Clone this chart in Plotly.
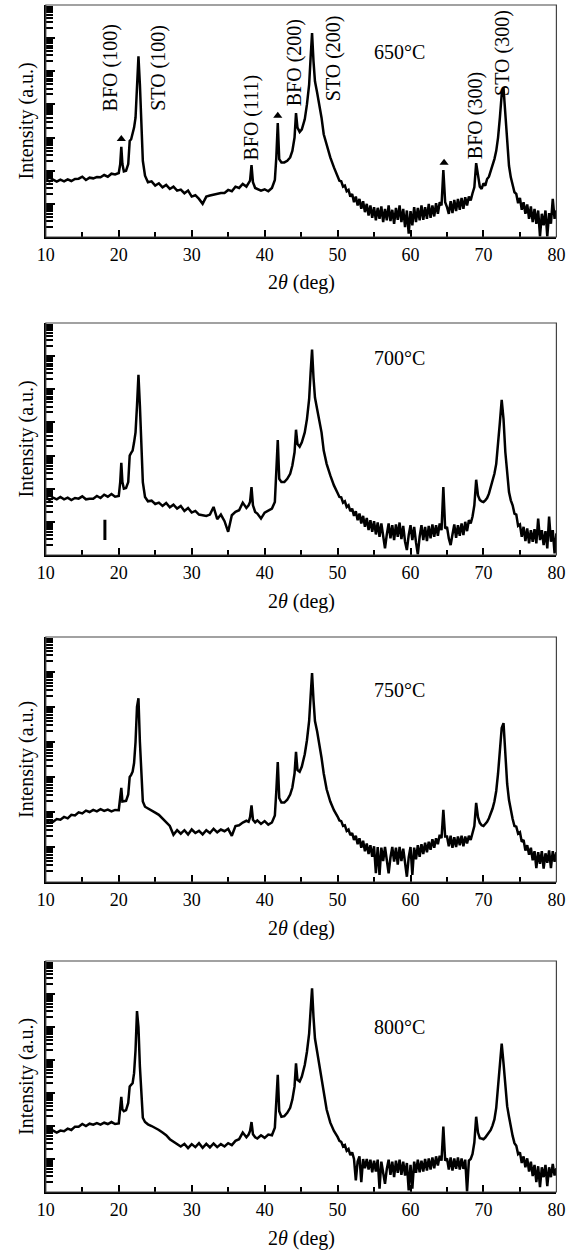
import plotly.graph_objects as go

# ---- 2-theta sample positions (deg), by scan segment ----
THETA_A = [10.0, 10.5, 11.0, 11.5, 12.0, 12.5, 13.0, 13.5, 14.0, 14.5,
           15.0, 15.5, 16.0, 16.5, 17.0, 17.5, 18.0, 18.5, 19.0, 19.5]
THETA_B = [20.0, 20.2, 20.35, 20.5, 20.7, 21.0, 21.3, 21.5, 21.7, 21.9,
           22.1, 22.3, 22.5, 22.7, 22.9, 23.1, 23.3, 23.6, 24.0]
THETA_C = [24.5, 25.0, 25.5, 26.0, 26.5, 27.0, 27.5, 28.0, 28.5, 29.0,
           29.5, 30.0, 30.5, 31.0, 31.5, 32.0, 32.5, 33.0, 33.5, 34.0,
           34.5, 35.0, 35.5, 36.0, 36.5, 37.0, 37.5,
           37.8, 38.0, 38.2, 38.4, 38.7,
           39.0, 39.5, 40.0, 40.5, 41.0]
THETA_D = [41.4, 41.6, 41.8, 42.0, 42.3, 42.7, 43.1, 43.5, 43.8, 44.1,
           44.3, 44.5, 44.8, 45.1, 45.5, 45.8, 46.1, 46.3, 46.5, 46.7,
           46.9, 47.2, 47.5, 47.8, 48.1, 48.5, 49.0, 49.5]
THETA_E = [50.0, 50.25, 50.5, 50.75, 51.0, 51.25, 51.5, 51.75,
           52.0, 52.25, 52.5, 52.75, 53.0, 53.25, 53.5, 53.75,
           54.0, 54.25, 54.5, 54.75, 55.0, 55.25, 55.5, 55.75,
           56.0, 56.25, 56.5, 56.75, 57.0, 57.25, 57.5, 57.75,
           58.0, 58.25, 58.5, 58.75, 59.0, 59.25, 59.5, 59.75,
           60.0, 60.25, 60.5, 60.75, 61.0, 61.25, 61.5, 61.75,
           62.0, 62.25, 62.5, 62.75, 63.0, 63.25, 63.5, 63.75,
           64.0, 64.25, 64.5, 64.75, 65.0, 65.25, 65.5, 65.75,
           66.0, 66.25, 66.5, 66.75, 67.0, 67.25, 67.5, 67.75,
           68.0, 68.25, 68.5, 68.75, 69.0, 69.25, 69.5, 69.75,
           70.0, 70.25, 70.5, 70.75, 71.0, 71.25, 71.5, 71.75,
           72.0, 72.25, 72.5, 72.75, 73.0, 73.25, 73.5, 73.75,
           74.0, 74.25, 74.5, 74.75, 75.0, 75.25, 75.5, 75.75,
           76.0, 76.25, 76.5, 76.75, 77.0, 77.25, 77.5, 77.75,
           78.0, 78.25, 78.5, 78.75, 79.0, 79.25, 79.5, 79.75,
           80.0]
THETA = THETA_A + THETA_B + THETA_C + THETA_D + THETA_E

# ---- log10 intensity (a.u., decades above axis bottom) ----
LOG_I_650 = [
    # A
    1.74, 1.68, 1.73, 1.67, 1.73, 1.68, 1.74, 1.69, 1.75, 1.76,
    1.82, 1.72, 1.79, 1.77, 1.81, 1.80, 1.87, 1.82, 1.91, 1.89,
    # B
    1.93, 2.20, 2.72, 2.20, 1.98, 2.00, 2.20, 2.90, 2.95, 3.10,
    3.30, 3.60, 4.50, 5.45, 4.60, 3.20, 2.30, 1.85, 1.65,
    # C
    1.68, 1.55, 1.62, 1.50, 1.57, 1.45, 1.52, 1.40, 1.43, 1.32,
    1.40, 1.22, 1.26, 1.15, 1.00, 1.22, 1.25, 1.28, 1.30, 1.33,
    1.33, 1.42, 1.38, 1.52, 1.48, 1.60, 1.52,
    1.62, 1.70, 2.17, 1.65, 1.48,
    1.45, 1.40, 1.44, 1.38, 1.48,
    # D
    1.72, 2.40, 3.44, 2.35, 2.25, 2.25, 2.30, 2.40, 2.60, 3.00,
    3.74, 3.30, 3.17, 3.25, 3.55, 4.00, 4.60, 5.40, 6.15, 5.30,
    4.70, 4.35, 4.00, 3.60, 3.10, 2.75, 2.40, 2.10,
    # E
    1.82, 1.70, 1.68, 1.52, 1.55, 1.38, 1.42, 1.22,
    1.30, 1.05, 1.22, 0.95, 1.15, 0.85, 1.08, 0.75,
    1.00, 0.65, 0.95, 0.58, 0.90, 0.50, 0.88, 0.55,
    0.92, 0.45, 0.85, 0.50, 0.95, 0.48, 0.82, 0.40,
    0.88, 0.52, 0.95, 0.45, 0.85, 0.30, 0.80, 0.10,
    0.78, 0.35, 0.90, 0.45, 0.88, 0.50, 0.95, 0.52,
    0.90, 0.55, 1.00, 0.58, 0.95, 0.62, 1.02, 0.70,
    1.05, 0.95, 2.02, 1.05, 0.90, 0.70, 1.08, 0.72,
    1.12, 0.78, 1.15, 0.82, 1.18, 0.85, 1.20, 0.95,
    1.22, 1.10, 1.32, 1.50, 2.23, 1.80, 1.52, 1.45,
    1.62, 1.55, 1.75, 1.82, 2.00, 2.15, 2.35, 2.60,
    3.00, 3.60, 4.30, 4.49, 3.70, 2.80, 2.15, 1.80,
    1.55, 1.35, 1.30, 1.02, 1.18, 0.82, 1.05, 0.70,
    0.98, 0.55, 0.92, 0.45, 0.85, 0.40, 0.80, 0.02,
    0.70, 0.35, 0.80, 0.02, 0.72, 0.40, 1.15, 0.55,
    0.80,
]
LOG_I_700 = [
    # A
    1.74, 1.66, 1.73, 1.68, 1.75, 1.68, 1.73, 1.66, 1.72, 1.70,
    1.77, 1.68, 1.70, 1.70, 1.78, 1.72, 1.82, 1.76, 1.84, 1.76,
    # B
    1.78, 2.20, 2.78, 2.20, 2.00, 2.02, 2.20, 3.00, 3.08, 3.15,
    3.40, 3.70, 4.50, 5.44, 4.50, 3.10, 2.20, 1.75, 1.62,
    # C
    1.64, 1.54, 1.58, 1.48, 1.57, 1.44, 1.52, 1.40, 1.48, 1.33,
    1.42, 1.28, 1.33, 1.22, 1.20, 1.18, 1.22, 1.45, 1.08, 1.22,
    1.02, 0.70, 1.20, 1.30, 1.35, 1.58, 1.42,
    1.50, 1.60, 2.05, 1.50, 1.30,
    1.25, 1.10, 1.28, 1.35, 1.40,
    # D
    1.60, 2.50, 3.47, 2.30, 2.20, 2.20, 2.30, 2.45, 2.70, 3.10,
    3.78, 3.35, 3.27, 3.40, 3.70, 4.10, 4.70, 5.50, 6.20, 5.35,
    4.75, 4.40, 4.05, 3.70, 3.15, 2.75, 2.40, 2.10,
    # E
    1.87, 1.75, 1.74, 1.58, 1.62, 1.45, 1.50, 1.32,
    1.40, 1.18, 1.32, 1.05, 1.25, 0.95, 1.18, 0.85,
    1.12, 0.75, 1.05, 0.70, 1.02, 0.62, 0.98, 0.55,
    0.95, 0.58, 0.20, 0.62, 0.95, 0.50, 0.90, 0.45,
    0.92, 0.55, 0.98, 0.48, 0.88, 0.40, 0.15, 0.60,
    0.90, 0.45, 0.85, 0.38, 0.02, 0.55, 0.90, 0.45,
    0.85, 0.42, 0.88, 0.50, 0.92, 0.55, 0.90, 0.58,
    0.95, 0.75, 2.05, 0.80, 0.85, 0.50, 0.30, 0.62,
    0.92, 0.52, 0.90, 0.58, 0.95, 0.60, 1.00, 0.72,
    1.05, 0.95, 1.16, 1.50, 2.27, 1.80, 1.66, 1.62,
    1.60, 1.65, 1.72, 1.85, 2.05, 2.20, 2.45, 2.75,
    3.30, 4.00, 4.68, 4.10, 3.10, 2.45, 1.90, 1.65,
    1.50, 1.25, 1.22, 0.88, 0.92, 0.55, 0.85, 0.42,
    0.80, 0.35, 0.75, 0.40, 0.78, 0.35, 1.10, 0.45,
    0.75, 0.30, 0.72, 0.20, 1.16, 0.40, 0.75, 0.05,
    0.65,
]
LOG_I_750 = [
    # A
    1.71, 1.76, 1.72, 1.80, 1.78, 1.86, 1.82, 1.92, 1.90, 1.99,
    1.96, 2.04, 2.00, 2.06, 2.02, 2.08, 2.03, 2.07, 2.02, 2.06,
    # B
    2.05, 2.40, 2.69, 2.30, 2.30, 2.32, 2.50, 3.00, 3.06, 3.15,
    3.40, 4.00, 5.00, 5.25, 4.00, 2.90, 2.30, 2.15, 2.10,
    # C
    2.02, 1.98, 1.92, 1.82, 1.72, 1.60, 1.35, 1.48, 1.38, 1.48,
    1.36, 1.50, 1.40, 1.46, 1.36, 1.48, 1.40, 1.52, 1.42, 1.50,
    1.45, 1.52, 1.32, 1.60, 1.62, 1.70, 1.75,
    1.72, 1.85, 2.19, 1.78, 1.70,
    1.76, 1.66, 1.74, 1.64, 1.70,
    # D
    1.90, 2.60, 3.43, 2.40, 2.27, 2.27, 2.35, 2.50, 2.70, 3.10,
    3.72, 3.20, 3.15, 3.30, 3.65, 4.05, 4.60, 5.30, 5.97, 5.20,
    4.60, 4.30, 3.95, 3.55, 3.10, 2.65, 2.30, 2.05,
    # E
    1.87, 1.76, 1.74, 1.60, 1.62, 1.46, 1.50, 1.34,
    1.40, 1.20, 1.32, 1.08, 1.25, 0.98, 1.18, 0.88,
    1.10, 0.80, 1.05, 0.72, 1.02, 0.25, 1.00, 0.20,
    0.98, 0.60, 1.00, 0.55, 0.25, 0.70, 1.00, 0.58,
    0.98, 0.50, 1.00, 0.60, 0.95, 0.55, 0.15, 0.70,
    1.00, 0.20, 0.98, 0.65, 1.05, 0.72, 1.08, 0.80,
    1.12, 0.85, 1.15, 0.92, 1.22, 0.98, 1.25, 1.08,
    1.35, 1.25, 2.06, 1.30, 1.30, 1.02, 1.32, 0.98,
    1.28, 1.00, 1.30, 1.05, 1.32, 1.02, 1.30, 1.10,
    1.32, 1.20, 1.38, 1.60, 2.26, 1.85, 1.69, 1.62,
    1.60, 1.66, 1.72, 1.82, 1.95, 2.10, 2.30, 2.60,
    3.10, 3.70, 4.40, 4.54, 3.60, 2.80, 2.34, 2.00,
    1.80, 1.60, 1.58, 1.38, 1.42, 1.15, 1.20, 0.90,
    1.05, 0.78, 0.98, 0.62, 0.88, 0.40, 0.85, 0.52,
    0.88, 0.38, 0.82, 0.55, 0.90, 0.40, 0.88, 0.58,
    0.85,
]
LOG_I_800 = [
    # A
    1.90, 1.84, 1.86, 1.80, 1.86, 1.84, 1.92, 1.88, 1.98, 1.98,
    2.06, 2.00, 2.07, 2.04, 2.09, 2.04, 2.10, 2.06, 2.12, 2.06,
    # B
    2.08, 2.60, 2.88, 2.50, 2.45, 2.48, 2.70, 3.20, 3.24, 3.30,
    3.60, 4.30, 5.48, 5.00, 3.80, 2.80, 2.25, 2.12, 2.05,
    # C
    2.00, 1.95, 1.88, 1.80, 1.72, 1.60, 1.52, 1.45, 1.38, 1.46,
    1.33, 1.45, 1.36, 1.48, 1.34, 1.46, 1.35, 1.47, 1.36, 1.45,
    1.38, 1.48, 1.42, 1.55, 1.60, 1.80, 1.66,
    1.74, 1.85, 2.12, 1.75, 1.66,
    1.62, 1.72, 1.64, 1.74, 1.72,
    # D
    1.95, 2.70, 3.55, 2.45, 2.28, 2.30, 2.40, 2.55, 2.80, 3.20,
    3.90, 3.40, 3.35, 3.50, 3.85, 4.25, 4.80, 5.50, 6.17, 5.30,
    4.65, 4.25, 3.85, 3.45, 2.95, 2.50, 2.10, 1.85,
    # E
    1.67, 1.55, 1.52, 1.38, 1.42, 1.25, 1.30, 1.12,
    1.20, 1.00, 0.35, 0.92, 1.08, 0.30, 1.00, 0.72,
    1.00, 0.68, 0.98, 0.60, 0.95, 0.62, 0.98, 0.10,
    0.92, 0.55, 0.25, 0.70, 0.98, 0.52, 0.92, 0.45,
    0.95, 0.58, 0.98, 0.52, 0.92, 0.50, 0.88, 0.05,
    0.82, 0.10, 0.92, 0.58, 0.98, 0.60, 0.95, 0.62,
    1.00, 0.65, 1.02, 0.68, 1.05, 0.72, 1.08, 0.80,
    1.10, 0.95, 1.98, 0.95, 1.02, 0.68, 1.05, 0.65,
    1.02, 0.70, 1.05, 0.68, 1.02, 0.70, 0.98, 0.02,
    0.95, 1.00, 1.15, 1.50, 2.28, 1.80, 1.63, 1.62,
    1.60, 1.65, 1.72, 1.80, 1.88, 2.02, 2.20, 2.55,
    3.19, 3.90, 4.50, 3.90, 3.10, 2.60, 2.28, 1.95,
    1.70, 1.48, 1.40, 1.15, 1.20, 0.88, 1.08, 0.75,
    1.02, 0.62, 0.92, 0.48, 0.82, 0.30, 0.78, 0.15,
    0.75, 0.45, 0.82, 0.18, 0.75, 0.45, 0.85, 0.50,
    0.72,
]
PANEL_LOGS = [LOG_I_650, LOG_I_700, LOG_I_750, LOG_I_800]
for arr in PANEL_LOGS:
    assert len(arr) == len(THETA), (len(arr), len(THETA))

TEMPS = ["650°C", "700°C", "750°C", "800°C"]
TEMP_POS = [(58.5, 5.59), (58.5, 5.95), (58.5, 5.49), (58.5, 5.0)]

# peak labels (650 °C panel only)
PEAK_LABELS = ["BFO (100)", "STO (100)", "BFO (111)", "BFO (200)",
               "STO (200)", "BFO (300)", "STO (300)"]
PEAK_LABEL_X = [19.0, 25.5, 38.25, 44.1, 49.4, 68.9, 72.7]
PEAK_LABEL_LOGY = [5.1, 5.1, 3.6, 5.26, 5.4, 3.66, 5.56]

# triangle markers (650 °C panel)
TRI_X = [20.35, 41.8, 64.6]
TRI_LOGY = [2.96, 3.66, 2.24]

# stray mark in 700 °C panel
STRAY_X = [18.1, 18.1]
STRAY_LOGY = [1.06, 0.45]

# ---- layout geometry (pixels) ----
W, H = 578, 1252
PLOT_L, PLOT_R = 38, 565
PANELS_PX = [(5, 237), (323, 555), (637, 882), (961, 1192)]

FONT = "Liberation Serif, Times New Roman, serif"

fig = go.Figure()
annotations = []
shapes = []
layout = {}
for i, (top, bot) in enumerate(PANELS_PX):
    n = i + 1
    xa = "x" if n == 1 else f"x{n}"
    ya = "y" if n == 1 else f"y{n}"
    logs = PANEL_LOGS[i]
    fig.add_trace(go.Scatter(
        x=THETA, y=[10 ** v for v in logs], mode="lines",
        line=dict(color="black", width=2.5), xaxis=xa, yaxis=ya,
        showlegend=False, hoverinfo="skip"))
    layout[f"xaxis{'' if n == 1 else n}"] = dict(
        domain=[PLOT_L / W, PLOT_R / W], anchor=ya, range=[10, 80],
        dtick=10, tick0=10, ticks="inside", ticklen=7, tickwidth=2,
        tickcolor="black", showline=True, linecolor="black", linewidth=2,
        showgrid=False, zeroline=False,
        minor=dict(dtick=5, tick0=10, ticks="inside", ticklen=5,
                   tickwidth=2, tickcolor="black", showgrid=False),
        tickfont=dict(family=FONT, size=18, color="black"))
    layout[f"yaxis{'' if n == 1 else n}"] = dict(
        domain=[1 - bot / H, 1 - top / H], anchor=xa, type="log",
        range=[0, 7], dtick=1, ticks="inside", ticklen=9, tickwidth=2,
        tickcolor="black", showticklabels=False, showline=True,
        linecolor="black", linewidth=2, showgrid=False, zeroline=False,
        minor=dict(dtick="D1", ticks="inside", ticklen=7, tickwidth=1.5,
                   tickcolor="black", showgrid=False))
    shapes.append(dict(type="rect", xref=f"{xa} domain", yref=f"{ya} domain",
                       x0=0, x1=1, y0=0, y1=1,
                       line=dict(color="#444444", width=1.2)))
    # axis titles
    annotations.append(dict(
        text="2<i>θ</i> (deg)", xref="paper", yref="paper",
        x=(PLOT_L + PLOT_R) / 2 / W, y=1 - (bot + 46) / H,
        xanchor="center", yanchor="middle", showarrow=False,
        font=dict(family=FONT, size=20, color="black")))
    annotations.append(dict(
        text="Intensity (a.u.)", xref="paper", yref="paper",
        x=18 / W, y=1 - (top + bot) / 2 / H, textangle=-90,
        xanchor="center", yanchor="middle", showarrow=False,
        font=dict(family=FONT, size=20, color="black")))
    # temperature label
    annotations.append(dict(
        text=TEMPS[i], xref=xa, yref=ya, x=TEMP_POS[i][0], y=TEMP_POS[i][1],
        showarrow=False, xanchor="center", yanchor="middle",
        font=dict(family=FONT, size=20, color="black")))

# peak labels on first panel
for lab, px, py in zip(PEAK_LABELS, PEAK_LABEL_X, PEAK_LABEL_LOGY):
    annotations.append(dict(
        text=lab, xref="x", yref="y", x=px, y=py, textangle=-90,
        showarrow=False, xanchor="center", yanchor="middle",
        font=dict(family=FONT, size=20, color="black")))

fig.add_trace(go.Scatter(
    x=TRI_X, y=[10 ** v for v in TRI_LOGY], mode="markers",
    marker=dict(symbol="triangle-up", size=8, color="black"),
    xaxis="x", yaxis="y", showlegend=False, hoverinfo="skip"))
fig.add_trace(go.Scatter(
    x=STRAY_X, y=[10 ** v for v in STRAY_LOGY], mode="lines",
    line=dict(color="black", width=3), xaxis="x2", yaxis="y2",
    showlegend=False, hoverinfo="skip"))

fig.update_layout(
    width=W, height=H, margin=dict(l=0, r=0, t=0, b=0),
    paper_bgcolor="white", plot_bgcolor="white",
    annotations=annotations, shapes=shapes, **layout)

fig.write_html(
    "out.html",
    config={"displayModeBar": False},
    post_script="document.body.style.margin='0px';"
                "document.body.style.overflow='hidden';")
